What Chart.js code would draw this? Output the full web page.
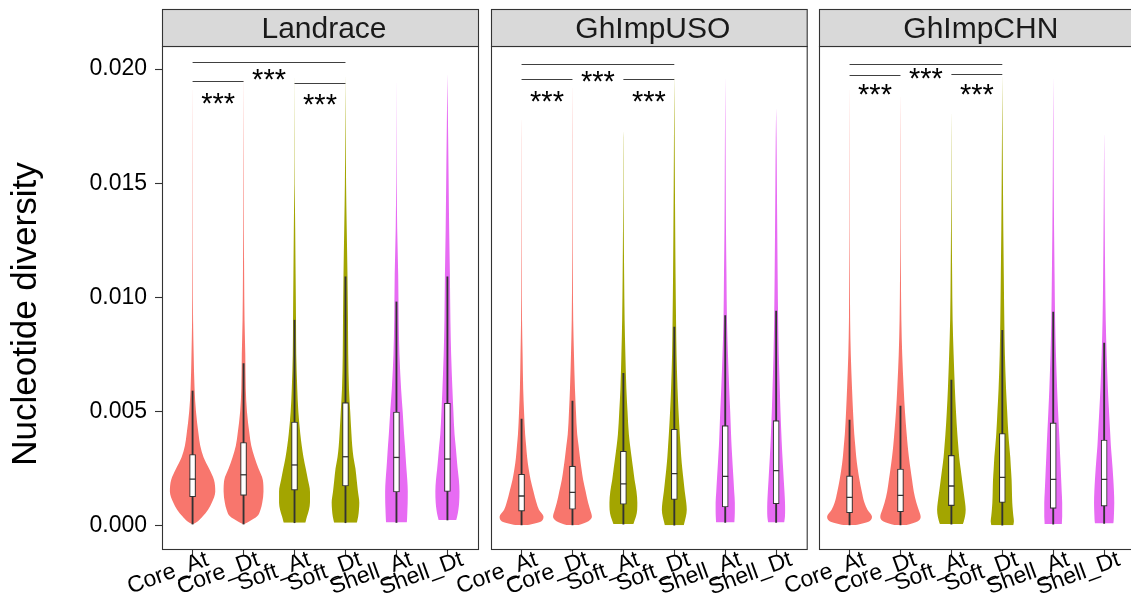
<!DOCTYPE html>
<html>
<head>
<meta charset="utf-8">
<script src="https://cdn.jsdelivr.net/npm/chart.js@4.4.1/dist/chart.umd.min.js"></script>
<style>
  html, body { margin: 0; padding: 0; background: #fff; width: 1131px; height: 608px; overflow: hidden; position: relative; }
  canvas { position: absolute; top: 0; }
</style>
</head>
<body>
<canvas id="panel0" width="484" height="608" style="left:0px"></canvas>
<canvas id="panel1" width="392" height="608" style="left:420px"></canvas>
<canvas id="panel2" width="392" height="608" style="left:748px"></canvas>
<script>
// ---- data -------------------------------------------------------------
const PANELS = ['Landrace', 'GhImpUSO', 'GhImpCHN'];
const CATEGORIES = ['Core_At', 'Core_Dt', 'Soft_At', 'Soft_Dt', 'Shell_At', 'Shell_Dt'];
const Y_TICKS = [0, 0.005, 0.01, 0.015, 0.02];
const Y_TITLE = 'Nucleotide diversity';

// nucleotide diversity levels at which the violin density widths are given
const DENSITY_LEVELS = [0.0002, 0.0004, 0.0007, 0.001, 0.0015, 0.002, 0.0025, 0.003, 0.0035,
                        0.004, 0.005, 0.006, 0.0075, 0.009, 0.011, 0.013, 0.015, 0.017];

// Landrace
const LANDRACE_MIN  = [0.00007, 0.00007, 0.00013, 0.00013, 0.00014, 0.00025];
const LANDRACE_MAX  = [0.0195, 0.0199, 0.0200, 0.0198, 0.0197, 0.0198];
const LANDRACE_BASE = [1, 1, 21.7, 22.7, 20.7, 17.7];
const LANDRACE_DENSITY = [
  [10.7, 20, 31, 38.5, 45.5, 43, 33, 22, 15.4, 12, 6.8, 4, 2.2, 1, 0.6, 0.4, 0.3, 0.2],
  [12, 26.7, 34, 37.5, 40, 38.7, 30, 22, 15.5, 12, 6.8, 4.5, 3.5, 2, 1.2, 0.7, 0.5, 0.3],
  [22.5, 25, 29, 31, 31, 27, 22.5, 18, 14.5, 11.7, 7.7, 5.5, 3.5, 3, 2.2, 1.4, 0.5, 0.3],
  [23.5, 25.5, 27, 27.7, 25, 22.5, 20, 16, 13.5, 12, 9.5, 7, 5.5, 5, 4, 2.5, 1.2, 0.6],
  [21, 21.5, 22, 22.5, 22.7, 21.7, 20, 18.5, 17, 15.3, 12.5, 9.3, 6, 4.5, 3.5, 1.5, 0.6, 0.3],
  [17.7, 19.5, 22, 23.5, 24.2, 23, 20.5, 18.5, 16.5, 14.3, 12, 10, 7.5, 6, 5, 3.5, 2.5, 1.5]
];
const LANDRACE_Q1     = [0.00127, 0.00133, 0.00156, 0.00174, 0.00148, 0.0015];
const LANDRACE_MEDIAN = [0.00204, 0.00223, 0.00266, 0.00302, 0.00299, 0.00292];
const LANDRACE_Q3     = [0.00312, 0.00364, 0.00454, 0.00539, 0.00498, 0.00536];
const LANDRACE_UPPER  = [0.0059, 0.0071, 0.0090, 0.0109, 0.0098, 0.0109];
const LANDRACE_BRACKET_Y = [0.02031, 0.01946, 0.0194];
const LANDRACE_STAR_Y    = [0.01988, 0.01883, 0.01876];

// GhImpUSO
const USO_MIN  = [0.00003, 0.00003, 0.00007, 0.00002, 0.00014, 0.00014];
const USO_MAX  = [0.018, 0.0195, 0.0173, 0.0198, 0.0197, 0.0183];
const USO_BASE = [12, 12, 20, 19, 18.3, 16];
const USO_DENSITY = [
  [40, 44, 35, 30, 24, 18.3, 14.2, 11.2, 9.2, 7.2, 5, 3.3, 2.1, 1, 0.6, 0.4, 0.25, 0.15],
  [32, 39, 35.5, 31.5, 26.5, 21.5, 18, 15, 12.3, 9.5, 7, 5, 3, 1.5, 0.8, 0.5, 0.35, 0.25],
  [22, 25.3, 27.7, 28, 26.3, 22.5, 19.5, 16.5, 13.5, 11, 8.3, 6, 4, 2.5, 1.5, 0.8, 0.4, 0.2],
  [21, 23.3, 25, 24, 21, 18.5, 16, 14, 12.5, 11, 8.5, 6.5, 4.5, 3.5, 2.5, 1.8, 1.2, 0.7],
  [18.5, 19, 19.3, 19.3, 18, 16.7, 15.3, 14, 12.7, 11.7, 10, 8, 5.5, 3.5, 2.5, 1.5, 1, 0.6],
  [16.5, 17.7, 18, 17.8, 16.7, 15.3, 14, 12.7, 11.5, 10.5, 8.7, 7.3, 5.3, 4, 3, 2.2, 1.5, 0.8]
];
const USO_Q1     = [0.00064, 0.00072, 0.00094, 0.00115, 0.00082, 0.00096];
const USO_MEDIAN = [0.0013, 0.00146, 0.00183, 0.00228, 0.00216, 0.00241];
const USO_Q3     = [0.00225, 0.00261, 0.00326, 0.00422, 0.00438, 0.0046];
const USO_UPPER  = [0.00467, 0.00546, 0.00667, 0.0087, 0.0092, 0.0094];
const USO_BRACKET_Y = [0.0202, 0.01956, 0.01956];
const USO_STAR_Y    = [0.01978, 0.0189, 0.0189];

// GhImpCHN
const CHN_MIN  = [0.00003, 0.00003, 0.00007, 0.00002, 0.00007, 0.0001];
const CHN_MAX  = [0.0195, 0.019, 0.0182, 0.0198, 0.0197, 0.0172];
const CHN_BASE = [12, 12, 23, 22, 17.3, 18.3];
const CHN_DENSITY = [
  [40, 45, 36, 30, 24.5, 20, 16.3, 13.5, 11.5, 9.5, 7, 5, 2.5, 1.2, 0.7, 0.4, 0.3, 0.2],
  [35, 40.5, 36.5, 32, 26.7, 23.3, 20, 17, 14.5, 12.5, 9, 6.5, 3.5, 1.8, 0.9, 0.5, 0.35, 0.25],
  [25, 27.3, 28.7, 27.5, 24.5, 21.5, 18.5, 15.7, 13.8, 12, 9.2, 7, 4.5, 2.5, 1.5, 0.8, 0.4, 0.2],
  [23.3, 22.3, 21, 20, 19.3, 18.7, 17.3, 16, 14, 12.2, 9.8, 7.5, 5.2, 4, 3, 2, 1.3, 0.7],
  [17.5, 18, 18, 18, 17, 16, 15, 14, 13, 12, 9.8, 7.8, 5.5, 3.8, 2.7, 1.7, 1, 0.6],
  [19, 19.5, 20, 20.3, 19.7, 18.5, 17, 15.3, 13.5, 12.3, 9.8, 7.5, 5, 3.2, 2, 1.2, 0.6, 0.1]
];
const CHN_Q1     = [0.00057, 0.00061, 0.00088, 0.00102, 0.00076, 0.00086];
const CHN_MEDIAN = [0.00124, 0.00133, 0.00174, 0.00212, 0.00203, 0.00203];
const CHN_Q3     = [0.00218, 0.00248, 0.00308, 0.00404, 0.0045, 0.00375];
const CHN_UPPER  = [0.00463, 0.00524, 0.00638, 0.00856, 0.00936, 0.008];
const CHN_BRACKET_Y = [0.0202, 0.01972, 0.01978];
const CHN_STAR_Y    = [0.0199, 0.0192, 0.0192];

// significance comparisons (category positions) and their label
const BRACKET_PAIRS = [[1, 4], [1, 2], [3, 4]];
const BRACKET_LABEL = '***';

// ---- styling ----------------------------------------------------------
const FONT = "'Liberation Sans', Arial, Helvetica, sans-serif";
const GROUP_COLORS = ['#F8766D', '#A3A500', '#E76BF3'];   // Core, Soft, Shell
const INK = '#333333';
const VIOLIN_SCALE = 0.9 / 46;   // widest violin spans 0.9 of a category
const Y_MIN = -0.00102, Y_MAX = 0.021008;

Chart.defaults.font.family = FONT;

const panelData = [
  { min: LANDRACE_MIN, max: LANDRACE_MAX, base: LANDRACE_BASE, density: LANDRACE_DENSITY,
    q1: LANDRACE_Q1, median: LANDRACE_MEDIAN, q3: LANDRACE_Q3, upper: LANDRACE_UPPER,
    bracketY: LANDRACE_BRACKET_Y, starY: LANDRACE_STAR_Y },
  { min: USO_MIN, max: USO_MAX, base: USO_BASE, density: USO_DENSITY,
    q1: USO_Q1, median: USO_MEDIAN, q3: USO_Q3, upper: USO_UPPER,
    bracketY: USO_BRACKET_Y, starY: USO_STAR_Y },
  { min: CHN_MIN, max: CHN_MAX, base: CHN_BASE, density: CHN_DENSITY,
    q1: CHN_Q1, median: CHN_MEDIAN, q3: CHN_Q3, upper: CHN_UPPER,
    bracketY: CHN_BRACKET_Y, starY: CHN_STAR_Y }
];

// canvas-level layout of each facet (padding around the plotting area)
const PANEL_LAYOUT = [
  { left: 0, right: 6 },
  { left: 71, right: 5 },
  { left: 71, right: 4 }
];

function buildDatasets(p) {
  const ds = [];
  CATEGORIES.forEach((cat, i) => {
    const c = i + 1;
    const color = GROUP_COLORS[Math.floor(i / 2)];
    const left = [], right = [];
    const add = (y, w) => {
      const h = w * VIOLIN_SCALE / 2;
      left.push({ x: c - h, y });
      right.push({ x: c + h, y });
    };
    add(p.min[i], p.base[i]);
    DENSITY_LEVELS.forEach((lv, k) => {
      if (lv > p.min[i] && lv < p.max[i]) add(lv, p.density[i][k]);
    });
    add(p.max[i], 0);
    ds.push({ type: 'line', indexAxis: 'y', label: cat, data: left, fill: '+1',
      backgroundColor: color, borderColor: color, borderWidth: 0, pointRadius: 0,
      cubicInterpolationMode: 'monotone', order: 3 });
    ds.push({ type: 'line', indexAxis: 'y', label: cat, data: right, fill: false,
      backgroundColor: color, borderColor: color, borderWidth: 0, pointRadius: 0,
      cubicInterpolationMode: 'monotone', order: 3 });
  });
  // whiskers
  ds.push({ type: 'bar', grouped: false, order: 2,
    data: CATEGORIES.map((_, i) => ({ x: i + 1, y: [p.min[i], p.upper[i]] })),
    backgroundColor: INK, borderWidth: 0, barThickness: 1.2 });
  // boxes
  ds.push({ type: 'bar', grouped: false, order: 1,
    data: CATEGORIES.map((_, i) => ({ x: i + 1, y: [p.q1[i], p.q3[i]] })),
    backgroundColor: '#ffffff', borderColor: INK, borderWidth: 1.1, borderSkipped: false,
    barThickness: 6 });
  // medians
  ds.push({ type: 'line', showLine: false, order: 0,
    data: CATEGORIES.map((_, i) => ({ x: i + 1, y: p.median[i] })),
    pointStyle: 'line', pointRadius: 3, pointBorderWidth: 1.3, pointBorderColor: INK,
    borderColor: INK });
  return ds;
}

// strip, panel border and significance brackets
const facetDecor = {
  id: 'facetDecor',
  afterDatasetsDraw(chart, args, opts) {
    const { ctx, scales: { x, y } } = chart;
    const p = panelData[opts.index];
    ctx.save();
    ctx.strokeStyle = '#404040';
    ctx.lineWidth = 1;
    ctx.fillStyle = '#000';
    ctx.font = '29px ' + FONT;
    ctx.textAlign = 'center';
    ctx.textBaseline = 'alphabetic';
    BRACKET_PAIRS.forEach(([a0, a1], k) => {
      const py = Math.round(y.getPixelForValue(p.bracketY[k])) + 0.5;
      ctx.beginPath();
      ctx.moveTo(x.getPixelForValue(a0), py);
      ctx.lineTo(x.getPixelForValue(a1), py);
      ctx.stroke();
      const sy = y.getPixelForValue(p.starY[k]) + 0.58 * 29;
      ctx.fillText(BRACKET_LABEL, x.getPixelForValue((a0 + a1) / 2), sy);
    });
    ctx.restore();
  },
  afterDraw(chart, args, opts) {
    const { ctx, chartArea: a } = chart;
    ctx.save();
    ctx.lineWidth = 1.1;
    ctx.strokeStyle = INK;
    ctx.strokeRect(a.left + 0.5, a.top + 0.5, a.width, a.height);
    // strip
    const stripTop = 9.5;
    ctx.fillStyle = '#D9D9D9';
    ctx.fillRect(a.left + 0.5, stripTop, a.width, a.top + 0.5 - stripTop);
    ctx.strokeRect(a.left + 0.5, stripTop, a.width, a.top + 0.5 - stripTop);
    ctx.fillStyle = '#1A1A1A';
    ctx.font = '30px ' + FONT;
    ctx.textAlign = 'center';
    ctx.textBaseline = 'alphabetic';
    ctx.fillText(PANELS[opts.index], (a.left + a.right) / 2 + 4, 38);
    if (opts.index === 0) {
      ctx.translate(36, 314);
      ctx.rotate(-Math.PI / 2);
      ctx.fillStyle = '#000';
      ctx.font = '35px ' + FONT;
      ctx.fillText(Y_TITLE, 0, 0);
    }
    ctx.restore();
  }
};

PANELS.forEach((name, idx) => {
  const lay = PANEL_LAYOUT[idx];
  const showY = idx === 0;
  new Chart(document.getElementById('panel' + idx), {
    type: 'line',
    data: { datasets: buildDatasets(panelData[idx]) },
    plugins: [facetDecor],
    options: {
      responsive: false,
      animation: false,
      devicePixelRatio: 1,
      events: [],
      layout: { padding: { top: 46, bottom: 0, left: lay.left, right: lay.right } },
      plugins: {
        legend: { display: false },
        tooltip: { enabled: false },
        facetDecor: { index: idx }
      },
      scales: {
        x: {
          type: 'linear', min: 0.4, max: 6.6, offset: false,
          afterBuildTicks: s => { s.ticks = CATEGORIES.map((_, i) => ({ value: i + 1 })); },
          afterFit: s => { s.height = 59; s.paddingLeft = 0; s.paddingRight = 0; },
          ticks: {
            callback: v => CATEGORIES[Math.round(v) - 1],
            autoSkip: false, minRotation: 20, maxRotation: 20,
            font: { size: 23 }, color: '#000', padding: -9, labelOffset: 15
          },
          grid: { display: true, offset: false, drawOnChartArea: false, drawTicks: true,
                  tickLength: 6, tickColor: INK, tickWidth: 1.1 },
          border: { display: false }
        },
        y: {
          type: 'linear', min: Y_MIN, max: Y_MAX,
          display: showY,
          afterBuildTicks: s => { s.ticks = Y_TICKS.map(v => ({ value: v })); },
          afterFit: s => { s.width = showY ? 162 : 0; },
          ticks: { callback: v => v.toFixed(3), font: { size: 23 }, color: '#000', padding: 8 },
          grid: { display: true, drawOnChartArea: false, drawTicks: true, tickLength: 7,
                  tickColor: INK, tickWidth: 1.1 },
          border: { display: false }
        }
      }
    }
  });
});
</script>
</body>
</html>
